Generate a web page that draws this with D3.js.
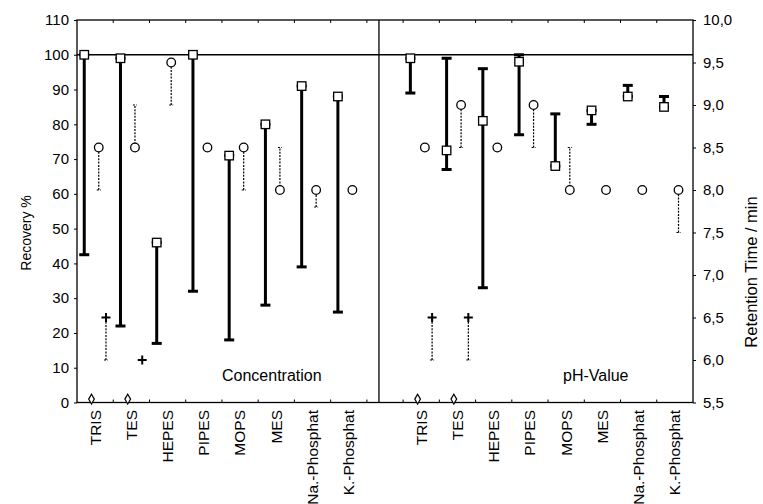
<!DOCTYPE html>
<html>
<head>
<meta charset="utf-8">
<script src="https://cdn.jsdelivr.net/npm/d3@7"></script>
<style>
  body { margin: 0; background: #fff; }
  svg { font-family: "Liberation Sans", Arial, sans-serif; }
</style>
</head>
<body>
<div id="chart"></div>
<script>
// Buffers (same order in both panels)
const categories = ["TRIS", "TES", "HEPES", "PIPES", "MOPS", "MES", "Na.-Phosphat", "K.-Phosphat"];
const panelNames = ["Concentration", "pH-Value"];

// Recovery % (left axis) - square + range
const recConc = [100, 99, 46, 100, 71, 80, 91, 88];
const recConcLow = [42.5, 22, 17, 32, 18, 28, 39, 26];
const recConcHigh = [100, 99, 46, 100, 71, 80, 91, 88];
const recPh = [99, 72.5, 81, 98, 68, 84, 88, 85];
const recPhLow = [89, 67, 33, 77, 68, 80, 88, 85];
const recPhHigh = [99, 99, 96, 100, 83, 84, 91.2, 88];

// Retention time / min (right axis) - circle + range
const rtConc = [8.5, 8.5, 9.5, 8.5, 8.5, 8.0, 8.0, 8.0];
const rtConcLow = [8.0, 8.5, 9.0, 8.5, 8.0, 8.0, 7.8, 8.0];
const rtConcHigh = [8.5, 9.0, 9.5, 8.5, 8.5, 8.5, 8.0, 8.0];
const rtPh = [8.5, 9.0, 8.5, 9.0, 8.0, 8.0, 8.0, 8.0];
const rtPhLow = [8.5, 8.5, 8.5, 8.5, 8.0, 8.0, 8.0, 7.5];
const rtPhHigh = [8.5, 9.0, 8.5, 9.0, 8.5, 8.0, 8.0, 8.0];

// Second peak (right axis) - cross + range
const crossConc = [6.5, 6.0, null, null, null, null, null, null];
const crossConcLow = [6.0, 6.0, null, null, null, null, null, null];
const crossPh = [6.5, 6.5, null, null, null, null, null, null];
const crossPhLow = [6.0, 6.0, null, null, null, null, null, null];

// Diamonds near the bottom (right axis)
const diamondConc = [5.54, 5.54, null, null, null, null, null, null];
const diamondPh = [5.54, 5.54, null, null, null, null, null, null];

const recTicks = d3.range(0, 111, 10);
const rtTicks = d3.range(5.5, 10.01, 0.5);

const width = 763, height = 504;
const plot = { left: 77, right: 693, top: 20, bottom: 402.5 };

const svg = d3.select("#chart").append("svg")
  .attr("width", width)
  .attr("height", height);

// 8 bands + 1 gap band + 8 bands
const x = d3.scaleBand().domain(d3.range(17)).range([plot.left, plot.right]);
const sub = d3.scalePoint()
  .domain(["rec", "diamond", "rt", "cross"])
  .range([0, x.bandwidth()])
  .padding(1);
const yRec = d3.scaleLinear().domain([0, 110]).range([plot.bottom, plot.top]);
const yRt = d3.scaleLinear().domain([5.5, 10]).range([plot.bottom, plot.top]);

const panels = [
  { name: panelNames[0], offset: 0, rec: recConc, recLow: recConcLow, recHigh: recConcHigh,
    rt: rtConc, rtLow: rtConcLow, rtHigh: rtConcHigh, cross: crossConc, crossLow: crossConcLow,
    diamond: diamondConc, labelX: 222 },
  { name: panelNames[1], offset: 9, rec: recPh, recLow: recPhLow, recHigh: recPhHigh,
    rt: rtPh, rtLow: rtPhLow, rtHigh: rtPhHigh, cross: crossPh, crossLow: crossPhLow,
    diamond: diamondPh, labelX: 563 }
];

// ====== Frame ======
svg.append("rect")
  .attr("x", plot.left).attr("y", plot.top)
  .attr("width", plot.right - plot.left).attr("height", plot.bottom - plot.top)
  .attr("fill", "none").attr("stroke", "#000").attr("stroke-width", 1.3);

// 100 % line
svg.append("line")
  .attr("x1", plot.left).attr("x2", plot.right)
  .attr("y1", yRec(100)).attr("y2", yRec(100))
  .attr("stroke", "#000").attr("stroke-width", 1.3);

// divider between panels
const divX = x(8) + x.bandwidth() / 3;
svg.append("line")
  .attr("x1", divX).attr("x2", divX)
  .attr("y1", plot.top).attr("y2", plot.bottom)
  .attr("stroke", "#000").attr("stroke-width", 1.3);

// inner ticks top and bottom
const bounds = d3.range(1, 17).map((k) => x(k));
svg.append("g").selectAll("line").data(bounds).enter().append("line")
  .attr("x1", (d) => d).attr("x2", (d) => d)
  .attr("y1", plot.top).attr("y2", plot.top + 3)
  .attr("stroke", "#000").attr("stroke-width", 1);
svg.append("g").selectAll("line").data(bounds).enter().append("line")
  .attr("x1", (d) => d).attr("x2", (d) => d)
  .attr("y1", plot.bottom).attr("y2", plot.bottom - 3)
  .attr("stroke", "#000").attr("stroke-width", 1);

// ====== Axes ======
const leftAxis = svg.append("g")
  .attr("transform", `translate(${plot.left},0)`)
  .call(d3.axisLeft(yRec).tickValues(recTicks).tickSize(3).tickPadding(5));
const rightAxis = svg.append("g")
  .attr("transform", `translate(${plot.right},0)`)
  .call(d3.axisRight(yRt).tickValues(rtTicks).tickSize(3).tickPadding(7)
    .tickFormat((d) => d.toFixed(1).replace(".", ",")));
[leftAxis, rightAxis].forEach((a) => {
  a.select(".domain").remove();
  a.selectAll("text").attr("font-size", "15px").attr("fill", "#000")
    .attr("font-family", "Liberation Sans, Arial, sans-serif");
});

svg.append("text")
  .attr("transform", "translate(26,233) rotate(-90)")
  .attr("text-anchor", "middle").attr("dy", "0.35em")
  .attr("font-size", "14px")
  .text("Recovery %");

svg.append("text")
  .attr("transform", "translate(751,272) rotate(-90)")
  .attr("text-anchor", "middle").attr("dy", "0.35em")
  .attr("font-size", "16.5px")
  .text("Retention Time / min");

// ====== Panels ======
function cx(panel, i, key) {
  return x(panel.offset + i) + sub(key);
}

function drawRange(g, xs, y1, y2, cap, dashed, width) {
  const line = g.append("g")
    .attr("stroke", "#000")
    .attr("stroke-width", width)
    .attr("stroke-dasharray", dashed ? "2,1.3" : null);
  line.append("line").attr("x1", xs).attr("x2", xs).attr("y1", y1).attr("y2", y2);
  [y1, y2].forEach((yy) => {
    line.append("line")
      .attr("stroke-dasharray", null)
      .attr("x1", xs - cap / 2).attr("x2", xs + cap / 2)
      .attr("y1", yy).attr("y2", yy);
  });
}

panels.forEach((p) => {
  const g = svg.append("g");

  // category labels
  g.append("g").selectAll("text").data(categories).enter().append("text")
    .attr("transform", (d, i) => `translate(${x(p.offset + i) + x.bandwidth() / 2},410) rotate(-90)`)
    .attr("text-anchor", "end").attr("dy", "0.35em")
    .attr("font-size", "15.5px")
    .text((d) => d);

  // panel name
  g.append("text")
    .attr("x", p.labelX).attr("y", 381)
    .attr("font-size", "16px")
    .text(p.name);

  categories.forEach((c, i) => {
    // recovery: thick bar with caps
    const xr = cx(p, i, "rec");
    if (p.recLow[i] !== p.recHigh[i]) {
      drawRange(g, xr, yRec(p.recLow[i]), yRec(p.recHigh[i]), 10, false, 3);
    }
    // retention: dotted range
    const xt = cx(p, i, "rt");
    if (p.rtLow[i] !== p.rtHigh[i]) {
      drawRange(g, xt, yRt(p.rtLow[i]), yRt(p.rtHigh[i]), 4, true, 1.2);
    }
    // cross range
    const xc = cx(p, i, "cross");
    if (p.cross[i] != null && p.crossLow[i] !== p.cross[i]) {
      drawRange(g, xc, yRt(p.crossLow[i]), yRt(p.cross[i]), 4, true, 1.2);
    }
  });

  // markers on top
  categories.forEach((c, i) => {
    const s = 8.5;
    g.append("rect")
      .attr("x", cx(p, i, "rec") - s / 2).attr("y", yRec(p.rec[i]) - s / 2)
      .attr("width", s).attr("height", s)
      .attr("fill", "#fff").attr("stroke", "#000").attr("stroke-width", 1.3);

    g.append("circle")
      .attr("cx", cx(p, i, "rt")).attr("cy", yRt(p.rt[i])).attr("r", 4.3)
      .attr("fill", "#fff").attr("stroke", "#000").attr("stroke-width", 1.3);

    if (p.cross[i] != null) {
      const xc = cx(p, i, "cross"), yc = yRt(p.cross[i]);
      g.append("path")
        .attr("d", `M${xc - 4.5},${yc}H${xc + 4.5}M${xc},${yc - 4.5}V${yc + 4.5}`)
        .attr("stroke", "#000").attr("stroke-width", 2);
    }

    if (p.diamond[i] != null) {
      g.append("path")
        .attr("d", d3.symbol(d3.symbolDiamond, 28)())
        .attr("transform", `translate(${cx(p, i, "diamond")},${yRt(p.diamond[i])})`)
        .attr("fill", "#fff").attr("stroke", "#000").attr("stroke-width", 1.2);
    }
  });
});
</script>
</body>
</html>
